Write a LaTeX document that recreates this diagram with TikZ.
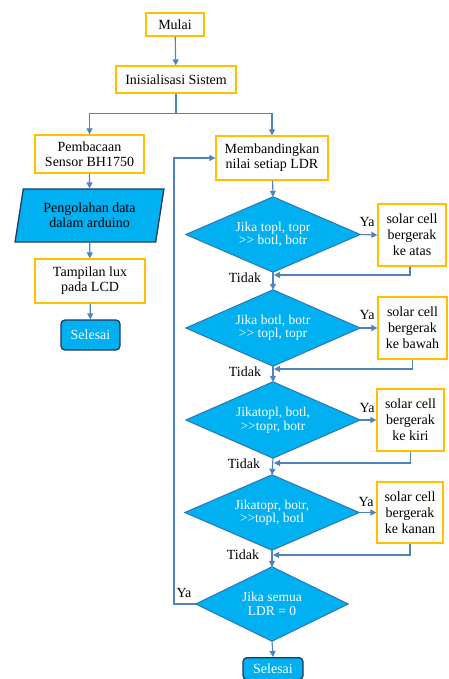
\documentclass[tikz,border=0pt]{standalone}
\usepackage{fontspec}
\setmainfont{Liberation Serif}
\usetikzlibrary{shapes.geometric,arrows.meta,backgrounds}
\definecolor{ylw}{HTML}{FFC000}
\definecolor{lnk}{RGB}{79,129,189}
\definecolor{cyanf}{HTML}{00B0F0}
\definecolor{dbord}{HTML}{2E75B6}
\definecolor{navy}{HTML}{203864}
\tikzset{
  procbox/.style={draw=ylw, line width=1.3pt, fill=white, align=center, inner sep=0pt, font=\fontsize{14}{15}\selectfont},
  solbox/.style={procbox, font=\fontsize{14}{16}\selectfont},
  dectext/.style={rectangle, text=white, align=center, inner sep=0pt, font=\fontsize{13.5}{13.5}\selectfont},
  decshape/.style={draw=dbord, line width=1pt, fill=cyanf},
  endbox/.style={draw=navy, line width=1.3pt, fill=cyanf, rounded corners=4pt, text=white, inner sep=0pt, font=\fontsize{14}{15}\selectfont},
  iobox/.style={trapezium, trapezium left angle=77, trapezium right angle=103, trapezium stretches=true, draw=navy, line width=1.3pt, fill=cyanf, align=center, inner sep=0pt, font=\fontsize{14}{15}\selectfont},
  arr/.style={draw=lnk, line width=1.1pt, -{Triangle[length=6pt,width=6pt]}},
  ln/.style={draw=lnk, line width=1.1pt},
  lbl/.style={inner sep=0pt, font=\fontsize{14}{15}\selectfont}
}
\begin{document}
\begin{tikzpicture}[x=1pt,y=-1pt]
\useasboundingbox (0,0) rectangle (448,679);
% left column
\node[procbox, minimum width=58pt, minimum height=23pt] (mulai) at (175,24.5) {Mulai};
\node[procbox, minimum width=120pt, minimum height=27pt] (init) at (176,79.5) {Inisialisasi Sistem};
\node[procbox, minimum width=109pt, minimum height=38pt] (pemb) at (89.5,154) {Pembacaan\\Sensor BH1750};
\node[iobox, minimum width=149pt, minimum height=53pt] (proc) at (89.5,215.5) {Pengolahan data\\dalam arduino};
\node[procbox, minimum width=110pt, minimum height=44pt] (tamp) at (90,281) {Tampilan lux\\pada LCD};
\node[endbox, minimum width=59pt, minimum height=30pt] (sel1) at (90.5,335) {Selesai};
% right column
\node[procbox, minimum width=112pt, minimum height=44pt] (memb) at (272,158) {Membandingkan\\nilai setiap LDR};
\node[dectext, minimum width=174pt, minimum height=75pt] (d1) at (273,234.5) {Jika topl, topr\\>{}> botl, botr};
\node[solbox, minimum width=68pt, minimum height=62pt] (b1) at (412,235) {solar cell\\bergerak\\ke atas};
\node[dectext, minimum width=174pt, minimum height=76pt] (d2) at (273,328) {Jika botl, botr\\>{}> topl, topr};
\node[solbox, minimum width=69pt, minimum height=62pt] (b2) at (412.5,328) {solar cell\\bergerak\\ke bawah};
\node[dectext, minimum width=174pt, minimum height=76pt] (d3) at (273,420) {Jikatopl, botl,\\>{}>topr, botr};
\node[solbox, minimum width=67pt, minimum height=62pt] (b3) at (410.5,420) {solar cell\\bergerak\\ke kiri};
\node[dectext, minimum width=174pt, minimum height=75pt] (d4) at (272,512.5) {Jikatopr, botr,\\>{}>topl, botl};
\node[solbox, minimum width=66pt, minimum height=61pt] (b4) at (410,512.5) {solar cell\\bergerak\\ke kanan};
\node[dectext, minimum width=152pt, minimum height=74pt] (d5) at (272,604) {Jika semua\\LDR = 0};
\node[endbox, minimum width=60pt, minimum height=22pt, anchor=north] (sel2) at (273,657) {Selesai};
% diamond outlines
\begin{scope}[on background layer]
\foreach \d in {d1,d2,d3,d4,d5}
  \draw[decshape] (\d.north) -- (\d.east) -- (\d.south) -- (\d.west) -- cycle;
\end{scope}
% coordinates
\coordinate (split) at (176,113.5);
\coordinate (r1) at (274,275);
\coordinate (r2) at (274,369);
\coordinate (r3) at (274,463);
\coordinate (r4) at (273,555);
\coordinate (lp) at (174,604);
% connectors
\draw[arr] (mulai) -- (init);
\draw[ln] (init.south) -- (split);
\draw[arr] (split) -| (pemb.north);
\draw[arr] (split) -| (memb.north);
\draw[arr] (pemb) -- (proc);
\draw[arr] (proc) -- (tamp);
\draw[arr] (tamp) -- (sel1);
\draw[arr] (memb) -- (d1.north);
\draw[arr] (d1.east) -- (b1.west);
\draw[arr] (d2.east) -- (b2.west |- d2.east);
\draw[arr] (d3.east) -- (b3.west |- d3.east);
\draw[arr] (d4.east) -- (b4.west |- d4.east);
\draw[arr] (d1.south) -- (d2.north);
\draw[arr] (d2.south) -- (d3.north);
\draw[arr] (d3.south) -- (d4.north);
\draw[arr] (d4.south) -- (d5.north);
\draw[arr] (d5.south) -- (sel2.north);
\draw[arr] ([xshift=-2pt]b1.south) |- (r1);
\draw[arr] (b2.south) |- (r2);
\draw[arr] (b3.south) |- (r3);
\draw[arr] (b4.south) |- (r4);
\draw[arr] (d5.west) -- (lp) |- (memb.west);
% labels
\node[lbl] (ya1) at (367,222) {Ya};
\node[lbl] (ya2) at (367,315) {Ya};
\node[lbl] (ya3) at (367,408) {Ya};
\node[lbl] (ya4) at (366,502) {Ya};
\node[lbl] (ya5) at (184,593) {Ya};
\node[lbl] (t1) at (245,278) {Tidak};
\node[lbl] (t2) at (245,372) {Tidak};
\node[lbl] (t3) at (244,464) {Tidak};
\node[lbl] (t4) at (243,555) {Tidak};
\end{tikzpicture}
\end{document}
